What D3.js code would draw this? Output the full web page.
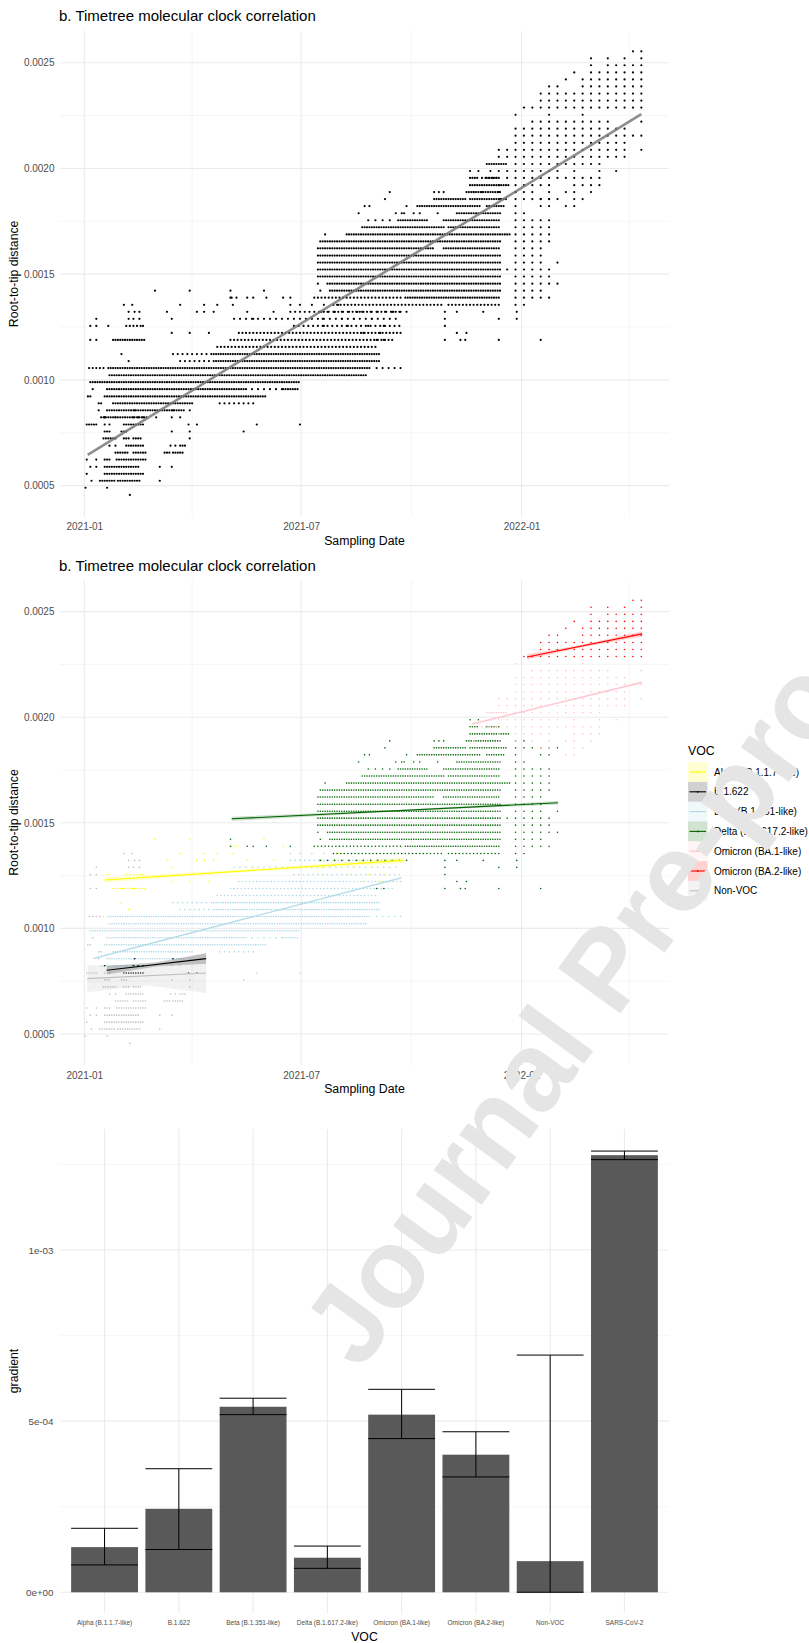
<!DOCTYPE html>
<html lang="en">
  <head>
    <meta charset="UTF-8" />
    <title>Timetree molecular clock correlation</title>
    <script src="https://cdn.jsdelivr.net/npm/d3@7"></script>
    <style>
      body {
        margin: 0;
        background: #fff;
      }
      svg {
        display: block;
        font-family: "Liberation Sans", Arial, sans-serif;
      }
    </style>
  </head>
  <body>
    <script>
      const width = 809;
      const height = 1643;

      // ---- data ----
      const vocNames = [
        "Alpha (B.1.1.7-like)",
        "B.1.622",
        "Beta (B.1.351-like)",
        "Delta (B.1.617.2-like)",
        "Omicron (BA.1-like)",
        "Omicron (BA.2-like)",
        "Non-VOC",
      ];
      const vocColors = ["#ffff00", "#000000", "#add8e6", "#006400", "#ffc0cb", "#ff0000", "#bebebe"];

      // rows of points: [root-to-tip distance, sampling days since 2021-01-01]
      // "a-b" = run sampled every 2 days, "a-b/s" = every s days
      const alphaRows = [
        [0.001422, "59 88 150"],
        [0.001389, "123 127 166"],
        [0.001355, "80 100 111 124 212"],
        [0.001322, "69 94 100 108 136 158 198 209 230 258"],
        [0.001289, "73 141 199 215 225 240"],
        [0.001255, "20 35 38 41 44 47 49 200 220 237 250"],
        [0.001222, "73 88 104 233 247"],
        [0.001189, "24-51"],
        [0.001122, "31"],
        [0.001089, "37"],
        [0.001056, "16"],
      ];
      const b1622Rows = [
        [0.000856, "42 74"],
        [0.000823, "17 41 45 49"],
        [0.000789, "33-49 87 94"],
      ];
      const betaRows = [
        [0.001355, "172 180 190 200"],
        [0.001322, "172-264/4"],
        [0.001289, "125-260/5"],
        [0.001255, "175-265/4"],
        [0.001222, "129-265/3"],
        [0.001189, "122-258/3"],
        [0.001156, "111-244/3"],
        [0.001122, "74-106/4 108-247"],
        [0.001089, "80-106/4 108-247"],
        [0.001056, "20-239 244-265/5"],
        [0.001022, "21-236"],
        [0.000989, "5-179"],
        [0.000956, "19-135 140-165/5 166-178"],
        [0.000922, "17-152"],
        [0.000889, "24-91 113-141/4"],
        [0.000856, "19-83 88"],
        [0.000823, "14-52 60 73 80"],
        [0.000789, "144 180"],
        [0.000756, "133"],
      ];
      const deltaRows = [
        [0.001988, "322 329"],
        [0.001955, "322-328 336-346"],
        [0.001921, "322-354"],
        [0.001888, "255 292 296 300 319-347 360 367"],
        [0.001855, "251 292-318 322-352 360 367 374 381 388 395"],
        [0.001822, "234 238 269 278-330 336-350 360 381 388"],
        [0.001788, "229 260 265 267 275 280 295 311-347 360 367"],
        [0.001755, "237 243 249 255 262-286 300-347 360-388/7"],
        [0.001722, "232-300 304-347 360-388/7"],
        [0.001688, "201 219-355 360-388/7"],
        [0.001655, "197-347 360-388/7"],
        [0.001622, "195-292 300-347 360-381/7"],
        [0.001588, "195-347 360-381/7"],
        [0.001555, "195-347 360-381/7 395"],
        [0.001522, "195-347 353 360-388/7"],
        [0.001489, "195-347 360-388/7"],
        [0.001455, "195 203-347 360-388/7 395"],
        [0.001422, "122 197 205-347 360-381/7"],
        [0.001389, "122 136 141 152 172 192-264/3 268-347 360-388/7"],
        [0.001355, "208-300/3 304-347/3 360 367"],
        [0.001322, "197-270/6 301 311 333 361"],
        [0.001289, "301 346 361"],
        [0.001255, "301"],
        [0.001222, "311 319"],
        [0.001189, "244 250 301 314 318 346 381"],
      ];
      const ba1Rows = [
        [0.002254, "360 388 416"],
        [0.002221, "374-437/7 465"],
        [0.002188, "360-451/7"],
        [0.002155, "360-465/7"],
        [0.002121, "360-451/7"],
        [0.002088, "346 353 360-451/7 465"],
        [0.002055, "346 353 360-451/7"],
        [0.002021, "336-353 360-430/7"],
        [0.001988, "339 346 353 360-395/7 409 430 444"],
        [0.001955, "332-346/3 353 360-430/7"],
        [0.001921, "346 360-388/7 409 416 423 430"],
        [0.001888, "325 332 346 360 374 388 402 409 423"],
        [0.001855, "347 381 388 409 416"],
        [0.001822, "402 409"],
      ];
      const ba2Rows = [
        [0.002554, "458 465"],
        [0.002521, "423 437 451 465"],
        [0.002488, "423 437 444 451 458 465"],
        [0.002454, "409 423-465/7"],
        [0.002421, "402 416-465/7"],
        [0.002388, "388 395 416-465/7"],
        [0.002354, "381-465/7"],
        [0.002321, "381-465/7"],
        [0.002288, "367-465/7"],
      ];
      const nonVocRows = [
        [0.001355, "33 40"],
        [0.001322, "37 42 46"],
        [0.001289, "10 37 41 46"],
        [0.001255, "5 10"],
        [0.001189, "5 10"],
        [0.001056, "4 7 10 13"],
        [0.000956, "7"],
        [0.000922, "3 5"],
        [0.000889, "12 14"],
        [0.000856, "12"],
        [0.000823, "17 26"],
        [0.000789, "2-10 17 21"],
        [0.000756, "17-21 31-35 73 88"],
        [0.000723, "16-27 33-38 41-47 88"],
        [0.000689, "21 26 35-49 72 76 80-84"],
        [0.000656, "26-37 41-52 67-72 74-83"],
        [0.000623, "2 10 17-21 27-52"],
        [0.000589, "5 10 17-45 63 73"],
        [0.000556, "2 17-49"],
        [0.000523, "6 13-26 28-46 63"],
        [0.00049, "1 19"],
        [0.000456, "38"],
      ];
      const rowsByVoc = [alphaRows, b1622Rows, betaRows, deltaRows, ba1Rows, ba2Rows, nonVocRows];

      // linear fits per VOC (days since 2021-01-01, distance) and CI half-width at start/mid/end
      const fitStartDay = [16.7, 18.7, 7.5, 123, 323.6, 369.6, 2.5];
      const fitEndDay = [266.5, 101.7, 265, 395.5, 465.7, 465.7, 101.7];
      const fitStartValue = [0.001229, 0.000802, 0.000857, 0.001519, 0.001968, 0.002285, 0.000762];
      const fitEndValue = [0.001322, 0.000857, 0.00124, 0.001595, 0.002165, 0.002395, 0.000789];
      const fitHalfWidth = [
        [1.2e-5, 0.6e-5, 1.2e-5],
        [2e-5, 1e-5, 2.5e-5],
        [0.6e-5, 0.3e-5, 0.6e-5],
        [1e-5, 0.4e-5, 0.8e-5],
        [0.8e-5, 0.4e-5, 0.8e-5],
        [1.2e-5, 0.6e-5, 1.2e-5],
        [6.4e-5, 4.5e-5, 9.5e-5],
      ];
      const overallFitDays = [2.8, 465];
      const overallFitValues = [0.000645, 0.002257];

      const distTicks = [0.0005, 0.001, 0.0015, 0.002, 0.0025];
      const distMinor = [0.00075, 0.00125, 0.00175, 0.00225];
      const dateTicks = ["2021-01-01", "2021-07-01", "2022-01-01"];
      const dateMinor = ["2021-04-01", "2021-10-01", "2022-04-01"];

      // bar chart: gradient per VOC with interval
      const barVoc = [
        "Alpha (B.1.1.7-like)",
        "B.1.622",
        "Beta (B.1.351-like)",
        "Delta (B.1.617.2-like)",
        "Omicron (BA.1-like)",
        "Omicron (BA.2-like)",
        "Non-VOC",
        "SARS-CoV-2",
      ];
      const gradient = [1.32e-4, 2.44e-4, 5.42e-4, 1.01e-4, 5.19e-4, 4.02e-4, 0.91e-4, 1.277e-3];
      const gradientLow = [0.8e-4, 1.25e-4, 5.19e-4, 0.7e-4, 4.49e-4, 3.37e-4, 0, 1.264e-3];
      const gradientHigh = [1.87e-4, 3.61e-4, 5.67e-4, 1.35e-4, 5.93e-4, 4.69e-4, 6.93e-4, 1.289e-3];
      const gradTicks = [0, 5e-4, 1e-3];
      const gradTickLabels = ["0e+00", "5e-04", "1e-03"];
      const gradMinor = [2.5e-4, 7.5e-4, 1.25e-3];

      // ---- helpers ----
      const day0 = Date.UTC(2021, 0, 1);
      const toDate = (d) => new Date(day0 + d * 864e5);
      const parseDate = d3.utcParse("%Y-%m-%d");

      const parseDays = (spec) =>
        spec.split(" ").flatMap((tok) => {
          const [span, step] = tok.split("/");
          const [a, b] = span.split("-").map(Number);
          return b === undefined ? [a] : d3.range(a, b + 1, step ? +step : 2);
        });

      const points = rowsByVoc.flatMap((rows, i) =>
        rows.flatMap(([dist, spec]) =>
          parseDays(spec).map((d) => ({ voc: i, date: toDate(d), dist }))
        )
      );

      const left = 60;
      const right = 669;
      const x = d3.scaleUtc().domain([toDate(-20.3), toDate(488.1)]).range([left, right]);

      const svg = d3
        .select("body")
        .append("svg")
        .attr("width", width)
        .attr("height", height);

      const hLines = (g, vals, y, color, w) =>
        g
          .append("g")
          .selectAll("line")
          .data(vals)
          .join("line")
          .attr("x1", left)
          .attr("x2", right)
          .attr("y1", (d) => y(d))
          .attr("y2", (d) => y(d))
          .attr("stroke", color)
          .attr("stroke-width", w);

      const vLines = (g, vals, xf, top, bottom, color, w) =>
        g
          .append("g")
          .selectAll("line")
          .data(vals)
          .join("line")
          .attr("x1", xf)
          .attr("x2", xf)
          .attr("y1", top)
          .attr("y2", bottom)
          .attr("stroke", color)
          .attr("stroke-width", w);

      const styleAxis = (g, size) => {
        g.select(".domain").remove();
        g.selectAll("text")
          .attr("font-size", size)
          .attr("fill", "#4d4d4d")
          .attr("font-family", "Liberation Sans, Arial, sans-serif");
      };

      const axisTitles = (xLabel, xBaseline, yLabel, top, bottom) => {
        svg
          .append("text")
          .attr("x", (left + right) / 2)
          .attr("y", xBaseline)
          .attr("text-anchor", "middle")
          .attr("font-size", 12.3)
          .text(xLabel);
        svg
          .append("text")
          .attr("transform", `translate(17.5,${(top + bottom) / 2}) rotate(-90)`)
          .attr("text-anchor", "middle")
          .attr("font-size", 12.3)
          .text(yLabel);
      };

      const scatterPanel = (top, bottom, titleY, colored) => {
        const y = d3.scaleLinear().domain([0.000353, 0.00265]).range([bottom, top]);
        const g = svg.append("g");

        // grid
        hLines(g, distMinor, y, "#f0f0f0", 0.6);
        vLines(g, dateMinor.map(parseDate), x, top, bottom, "#f0f0f0", 0.6);
        hLines(g, distTicks, y, "#ebebeb", 1.1);
        vLines(g, dateTicks.map(parseDate), x, top, bottom, "#ebebeb", 1.1);

        g.append("g")
          .attr("transform", `translate(${left},0)`)
          .call(d3.axisLeft(y).tickValues(distTicks).tickFormat(d3.format(".4f")).tickSize(0).tickPadding(5.5))
          .call((a) => styleAxis(a, 10));
        g.append("g")
          .attr("transform", `translate(0,${bottom})`)
          .call(
            d3
              .axisBottom(x)
              .tickValues(dateTicks.map(parseDate))
              .tickFormat(d3.utcFormat("%Y-%m"))
              .tickSize(0)
              .tickPadding(6.5)
          )
          .call((a) => styleAxis(a, 10));

        if (!colored) {
          g.append("g")
            .selectAll("circle")
            .data(points)
            .join("circle")
            .attr("cx", (d) => x(d.date))
            .attr("cy", (d) => y(d.dist))
            .attr("r", 1.1)
            .attr("fill", "#000");

          const fit = overallFitDays.map((d, i) => [x(toDate(d)), y(overallFitValues[i])]);
          g.append("path")
            .attr("d", d3.line()(fit))
            .attr("stroke", "#7a7a7a")
            .attr("stroke-opacity", 0.85)
            .attr("stroke-width", 2.6)
            .attr("fill", "none");
        } else {
          const order = [6, 2, 1, 0, 3, 4, 5];
          order.forEach((v) => {
            g.append("g")
              .selectAll("circle")
              .data(points.filter((p) => p.voc === v))
              .join("circle")
              .attr("cx", (d) => x(d.date))
              .attr("cy", (d) => y(d.dist))
              .attr("r", 0.8)
              .attr("fill", vocColors[v]);
          });

          // fitted lines with confidence ribbons
          order.forEach((v) => {
            const d0 = fitStartDay[v];
            const d1 = fitEndDay[v];
            const v0 = fitStartValue[v];
            const v1 = fitEndValue[v];
            const dm = (d0 + d1) / 2;
            const vm = (v0 + v1) / 2;
            const hw = fitHalfWidth[v];
            const upper = [
              [d0, v0 + hw[0]],
              [dm, vm + hw[1]],
              [d1, v1 + hw[2]],
            ];
            const lower = [
              [d1, v1 - hw[2]],
              [dm, vm - hw[1]],
              [d0, v0 - hw[0]],
            ];
            const ribbon = upper.concat(lower).map(([d, val]) => [x(toDate(d)), y(val)]);
            g.append("path")
              .attr("d", d3.line()(ribbon) + "Z")
              .attr("fill", vocColors[v])
              .attr("fill-opacity", v === 6 ? 0.22 : 0.2);
            g.append("path")
              .attr(
                "d",
                d3.line()([
                  [x(toDate(d0)), y(v0)],
                  [x(toDate(d1)), y(v1)],
                ])
              )
              .attr("stroke", vocColors[v])
              .attr("stroke-width", 1.1)
              .attr("fill", "none");
          });
        }

        svg
          .append("text")
          .attr("x", 59)
          .attr("y", titleY)
          .attr("font-size", 15)
          .text("b. Timetree molecular clock correlation");
      };

      // panel 1: all points
      scatterPanel(31, 516.7, 21, false);
      axisTitles("Sampling Date", 544.5, "Root-to-tip distance", 31, 516.7);

      // panel 2: coloured by VOC
      scatterPanel(580, 1065, 571, true);
      axisTitles("Sampling Date", 1092.5, "Root-to-tip distance", 580, 1065);

      // legend
      const legend = svg.append("g").attr("transform", "translate(688,0)");
      legend.append("text").attr("x", 0).attr("y", 755).attr("font-size", 12.3).text("VOC");
      const keys = legend
        .selectAll("g.key")
        .data(vocNames)
        .join("g")
        .attr("class", "key")
        .attr("transform", (d, i) => `translate(0,${772 + i * 19.8})`);
      keys
        .append("rect")
        .attr("x", 0)
        .attr("y", -9.9)
        .attr("width", 19.5)
        .attr("height", 19.8)
        .attr("fill", (d, i) => vocColors[i])
        .attr("fill-opacity", 0.18);
      keys
        .append("line")
        .attr("x1", 1.5)
        .attr("x2", 18)
        .attr("stroke", (d, i) => vocColors[i])
        .attr("stroke-width", 1.1);
      keys
        .append("circle")
        .attr("cx", 9.75)
        .attr("r", 0.9)
        .attr("fill", (d, i) => vocColors[i]);
      keys
        .append("text")
        .attr("x", 26)
        .attr("y", 3.6)
        .attr("font-size", 10)
        .text((d) => d);

      // panel 3: gradient bars
      const barTop = 1129;
      const barBottom = 1613;
      const xb = d3.scaleBand().domain(barVoc).range([left, right]).paddingInner(0.1).paddingOuter(0.15);
      const yb = d3.scaleLinear().domain([-0.0605e-3, 1.3535e-3]).range([barBottom, barTop]);
      const gb = svg.append("g");
      hLines(gb, gradMinor, yb, "#f0f0f0", 0.6);
      hLines(gb, gradTicks, yb, "#ebebeb", 1.1);
      vLines(gb, barVoc, (d) => xb(d) + xb.bandwidth() / 2, barTop, barBottom, "#ebebeb", 1.1);

      gb.append("g")
        .attr("transform", `translate(${left},0)`)
        .call(
          d3
            .axisLeft(yb)
            .tickValues(gradTicks)
            .tickFormat((d, i) => gradTickLabels[i])
            .tickSize(0)
            .tickPadding(6.5)
        )
        .call((a) => styleAxis(a, 9.8));
      gb.append("g")
        .attr("transform", `translate(0,${barBottom})`)
        .call(d3.axisBottom(xb).tickSize(0).tickPadding(7.4))
        .call((a) => styleAxis(a, 6.5));

      gb.append("g")
        .selectAll("rect")
        .data(barVoc)
        .join("rect")
        .attr("x", (d) => xb(d))
        .attr("width", xb.bandwidth())
        .attr("y", (d, i) => yb(gradient[i]))
        .attr("height", (d, i) => yb(0) - yb(gradient[i]))
        .attr("fill", "#595959");

      const errs = gb
        .append("g")
        .selectAll("g")
        .data(barVoc)
        .join("g")
        .attr("stroke", "#000")
        .attr("stroke-width", 1);
      errs
        .append("line")
        .attr("x1", (d) => xb(d) + xb.bandwidth() / 2)
        .attr("x2", (d) => xb(d) + xb.bandwidth() / 2)
        .attr("y1", (d, i) => yb(gradientLow[i]))
        .attr("y2", (d, i) => yb(gradientHigh[i]));
      errs
        .append("line")
        .attr("x1", (d) => xb(d))
        .attr("x2", (d) => xb(d) + xb.bandwidth())
        .attr("y1", (d, i) => yb(gradientHigh[i]))
        .attr("y2", (d, i) => yb(gradientHigh[i]));
      errs
        .append("line")
        .attr("x1", (d) => xb(d))
        .attr("x2", (d) => xb(d) + xb.bandwidth())
        .attr("y1", (d, i) => yb(gradientLow[i]))
        .attr("y2", (d, i) => yb(gradientLow[i]));

      axisTitles("VOC", 1641, "gradient", barTop, barBottom);

      // watermark
      svg
        .append("text")
        .attr("transform", "translate(360,1372) rotate(-54)")
        .attr("font-size", 112)
        .attr("font-weight", "bold")
        .attr("fill", "#e5e5e5")
        .text("Journal Pre-proof");
    </script>
  </body>
</html>
